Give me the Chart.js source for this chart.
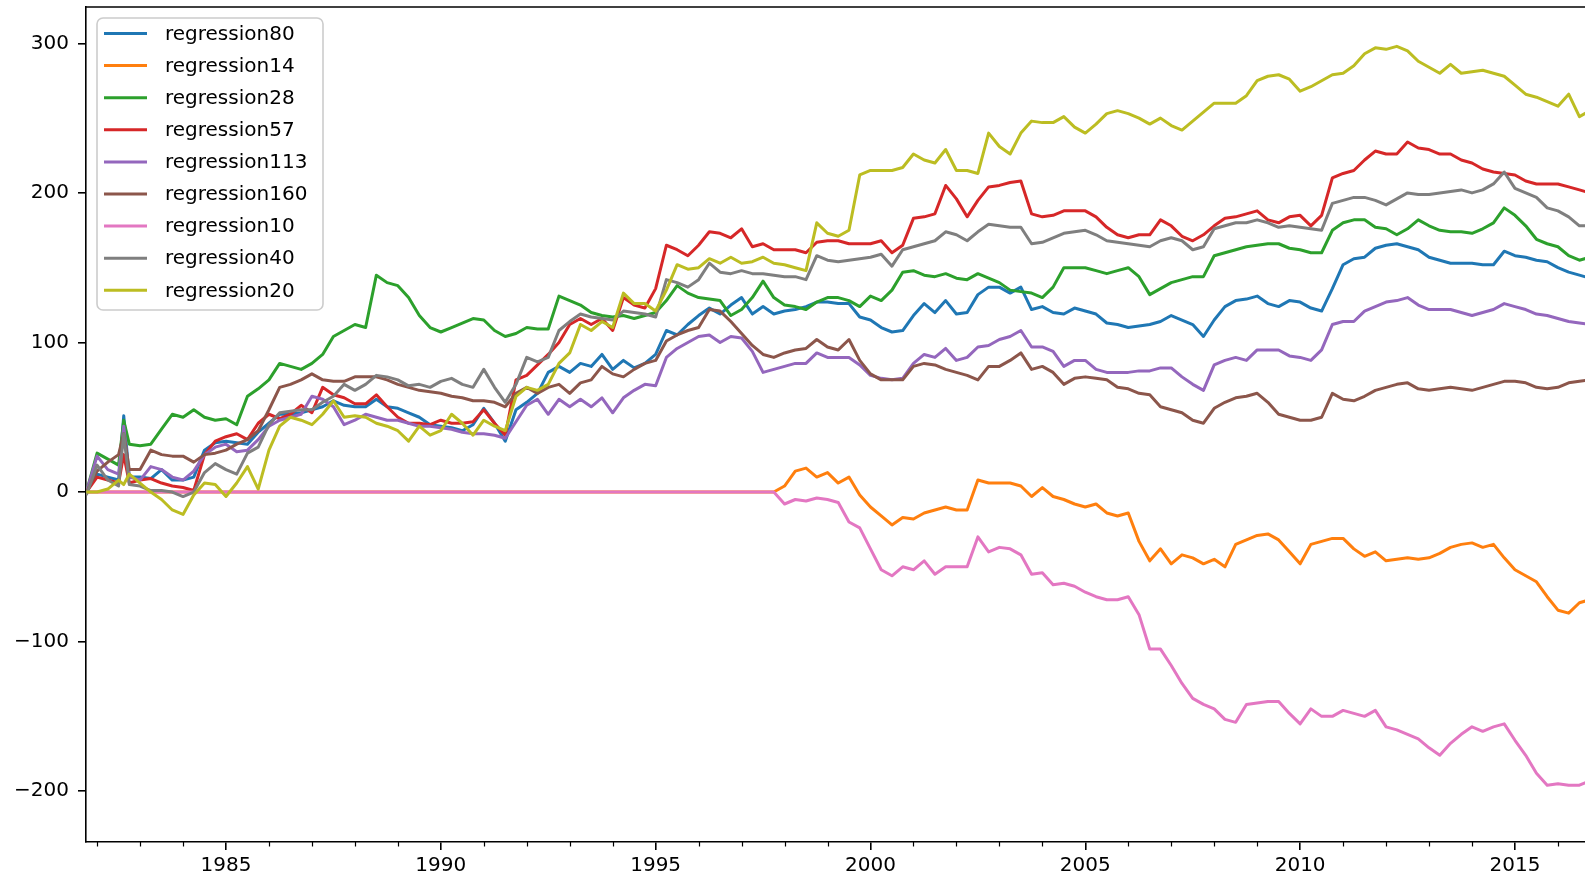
<!DOCTYPE html>
<html>
<head>
<meta charset="utf-8">
<script src="https://cdn.jsdelivr.net/npm/chart.js@4.4.1/dist/chart.umd.min.js"></script>
<style>
  html, body { margin: 0; padding: 0; background: #fff; overflow: hidden; }
  #wrap { width: 1585px; height: 877px; }
</style>
</head>
<body>
<div id="wrap"><canvas id="chart" width="1585" height="877"></canvas></div>
<script>
// time axis (decimal years, quarterly, plus the 1982 spike), shared by every series
const years = [
  1981.75, 1982, 1982.25, 1982.5, 1982.62, 1982.75,
  1983, 1983.25, 1983.5, 1983.75, 1984, 1984.25, 1984.5, 1984.75,
  1985, 1985.25, 1985.5, 1985.75, 1986, 1986.25, 1986.5, 1986.75,
  1987, 1987.25, 1987.5, 1987.75, 1988, 1988.25, 1988.5, 1988.75,
  1989, 1989.25, 1989.5, 1989.75, 1990, 1990.25, 1990.5, 1990.75,
  1991, 1991.25, 1991.5, 1991.75, 1992, 1992.25, 1992.5, 1992.75,
  1993, 1993.25, 1993.5, 1993.75, 1994, 1994.25, 1994.5, 1994.75,
  1995, 1995.25, 1995.5, 1995.75, 1996, 1996.25, 1996.5, 1996.75,
  1997, 1997.25, 1997.5, 1997.75, 1998, 1998.25, 1998.5, 1998.75,
  1999, 1999.25, 1999.5, 1999.75, 2000, 2000.25, 2000.5, 2000.75,
  2001, 2001.25, 2001.5, 2001.75, 2002, 2002.25, 2002.5, 2002.75,
  2003, 2003.25, 2003.5, 2003.75, 2004, 2004.25, 2004.5, 2004.75,
  2005, 2005.25, 2005.5, 2005.75, 2006, 2006.25, 2006.5, 2006.75,
  2007, 2007.25, 2007.5, 2007.75, 2008, 2008.25, 2008.5, 2008.75,
  2009, 2009.25, 2009.5, 2009.75, 2010, 2010.25, 2010.5, 2010.75,
  2011, 2011.25, 2011.5, 2011.75, 2012, 2012.25, 2012.5, 2012.75,
  2013, 2013.25, 2013.5, 2013.75, 2014, 2014.25, 2014.5, 2014.75,
  2015, 2015.25, 2015.5, 2015.75, 2016, 2016.25, 2016.5, 2016.75]

const regression80 = [
  0, 12, 10, 8, 51, 10, 10, 9, 15, 8, 8, 10, 28, 33, 34, 33, 32, 40, 46, 52, 52, 53, 55,
  57, 61, 58, 57, 57, 62, 57, 56, 53, 50, 45, 44, 43, 41, 45, 56, 46, 34, 55, 60, 66, 80,
  84, 80, 86, 84, 92, 82, 88, 83, 86, 92, 108, 105, 112, 118, 123, 119, 125, 130, 119, 124,
  119, 121, 122, 124, 127, 127, 126,
  126, 117, 115, 110, 107, 108, 118, 126, 120, 128, 119, 120, 132, 137, 137, 133, 137,
  122, 124, 120, 119, 123, 121, 119, 113, 112, 110, 111, 112, 114, 118, 115, 112,
  104, 115, 124, 128, 129, 131, 126, 124, 128, 127, 123, 121, 136, 152, 156, 157, 163, 165,
  166, 164, 162, 157, 155, 153, 153, 153, 152, 152, 161, 158, 157, 155, 154, 150, 147, 145, 143]

const regression14 = [
  0, 0, 0, 0, 0, 0, 0, 0, 0, 0, 0, 0, 0, 0, 0, 0, 0, 0, 0, 0, 0, 0, 0,
  0, 0, 0, 0, 0, 0, 0, 0, 0, 0, 0, 0, 0, 0, 0, 0, 0, 0, 0, 0, 0, 0,
  0, 0, 0, 0, 0, 0, 0, 0, 0, 0, 0, 0, 0, 0, 0, 0, 0, 0, 0, 0, 0,
  4, 14, 16, 10, 13, 6,
  10, -2, -10, -16, -22, -17, -18, -14, -12, -10, -12, -12, 8, 6, 6, 6, 4,
  -3, 3, -3, -5, -8, -10, -8, -14, -16, -14, -33, -46, -38, -48, -42, -44,
  -48, -45, -50, -35, -32, -29, -28, -32, -40, -48, -35, -33, -31, -31, -38, -43, -40, -46,
  -45, -44, -45, -44, -41, -37, -35, -34, -37, -35, -44, -52, -56, -60, -70, -79, -81, -74, -72]

const regression28 = [
  0, 26, 22, 18, 48, 32, 31, 32, 42, 52, 50, 55, 50, 48, 49, 45, 64, 69, 75, 86, 84, 82, 86,
  92, 104, 108, 112, 110, 145, 140, 138, 130, 118, 110, 107, 110, 113, 116, 115, 108, 104, 106, 110, 109, 109,
  131, 128, 125, 120, 118, 117, 118, 116, 118, 120, 128, 138, 133, 130, 129, 128, 118, 122, 130, 141,
  130, 125, 124, 122, 127, 130, 130,
  128, 124, 131, 128, 135, 147, 148, 145, 144, 146, 143, 142, 146, 143, 140, 135, 134,
  133, 130, 137, 150, 150, 150, 148, 146, 148, 150, 144, 132, 136, 140, 142, 144,
  144, 158, 160, 162, 164, 165, 166, 166, 163, 162, 160, 160, 175, 180, 182, 182, 177, 176,
  172, 176, 182, 178, 175, 174, 174, 173, 176, 180, 190, 185, 178, 169, 166, 164, 158, 155, 157]

const regression57 = [
  0, 10, 8, 6, 25, 6, 8, 9, 6, 4, 3, 1, 25, 34, 37, 39, 35, 46, 52, 49, 52, 58, 53,
  70, 65, 63, 59, 59, 65, 57, 50, 46, 46, 45, 48, 46, 46, 47, 55, 46, 38, 75, 78, 85, 92,
  100, 112, 116, 112, 116, 108, 130, 125, 123, 136, 165, 162, 158, 165, 174, 173, 170, 176, 164, 166,
  162, 162, 162, 160, 167, 168, 168,
  166, 166, 166, 168, 160, 165, 183, 184, 186, 205, 196, 184, 195, 204, 205, 207, 208,
  186, 184, 185, 188, 188, 188, 184, 177, 172, 170, 172, 172, 182, 178, 171, 168,
  172, 178, 183, 184, 186, 188, 182, 180, 184, 185, 178, 185, 210, 213, 215, 222, 228, 226,
  226, 234, 230, 229, 226, 226, 222, 220, 216, 214, 213, 212, 208, 206, 206, 206, 204, 202, 200]

const regression113 = [
  0, 24, 15, 12, 44, 10, 8, 17, 15, 10, 8, 14, 25, 30, 32, 27, 28, 35, 44, 48, 50, 52, 64,
  62, 57, 45, 48, 52, 50, 48, 48, 46, 44, 44, 43, 42, 40, 39, 39, 38, 36, 47, 58, 62, 52,
  62, 57, 62, 57, 63, 53, 63, 68, 72, 71, 90, 96, 100, 104, 105, 100, 104, 103, 94, 80,
  82, 84, 86, 86, 93, 90, 90,
  90, 85, 78, 76, 75, 76, 86, 92, 90, 96, 88, 90, 97, 98, 102, 104, 108,
  97, 97, 94, 84, 88, 88, 82, 80, 80, 80, 81, 81, 83, 83, 77, 72,
  68, 85, 88, 90, 88, 95, 95, 95, 91, 90, 88, 95, 112, 114, 114, 121, 124, 127,
  128, 130, 125, 122, 122, 122, 120, 118, 120, 122, 126, 124, 122, 119, 118, 116, 114, 113, 112]

const regression160 = [
  0, 14, 20, 25, 39, 15, 15, 28, 25, 24, 24, 20, 25, 26, 28, 32, 35, 41, 55, 70, 72, 75, 79,
  75, 74, 74, 77, 77, 77, 75, 72, 70, 68, 67, 66, 64, 63, 61, 61, 60, 57, 66, 70, 66, 70,
  72, 66, 73, 75, 84, 79, 77, 82, 86, 88, 101, 105, 108, 110, 122, 121, 114, 106, 98, 92,
  90, 93, 95, 96, 102, 97, 95,
  102, 88, 79, 75, 75, 75, 84, 86, 85, 82, 80, 78, 75, 84, 84, 88, 93,
  82, 84, 80, 72, 76, 77, 76, 75, 70, 69, 66, 65, 57, 55, 53, 48,
  46, 56, 60, 63, 64, 66, 60, 52, 50, 48, 48, 50, 66, 62, 61, 64, 68, 70,
  72, 73, 69, 68, 69, 70, 69, 68, 70, 72, 74, 74, 73, 70, 69, 70, 73, 74, 75]

const regression10 = [
  0, 0, 0, 0, 0, 0, 0, 0, 0, 0, 0, 0, 0, 0, 0, 0, 0, 0, 0, 0, 0, 0, 0,
  0, 0, 0, 0, 0, 0, 0, 0, 0, 0, 0, 0, 0, 0, 0, 0, 0, 0, 0, 0, 0, 0,
  0, 0, 0, 0, 0, 0, 0, 0, 0, 0, 0, 0, 0, 0, 0, 0, 0, 0, 0, 0, 0,
  -8, -5, -6, -4, -5, -7,
  -20, -24, -38, -52, -56, -50, -52, -46, -55, -50, -50, -50, -30, -40, -37, -38, -42,
  -55, -54, -62, -61, -63, -67, -70, -72, -72, -70, -82, -105, -105, -116, -128, -138,
  -142, -145, -152, -154, -142, -141, -140, -140, -148, -155, -145, -150, -150, -146, -148, -150, -146, -157,
  -159, -162, -165, -171, -176, -168, -162, -157, -160, -157, -155, -166, -176, -188, -196, -195, -196, -196, -193]

const regression40 = [
  -2, 18, 8, 4, 39, 5, 4, 1, 1, 0, -3, 0, 13, 19, 15, 12, 26, 30, 45, 53, 54, 55, 55,
  60, 64, 72, 68, 72, 78, 77, 75, 71, 72, 70, 74, 76, 72, 70, 82, 70, 60, 72, 90, 87, 90,
  108, 114, 119, 117, 116, 115, 121, 120, 119, 117, 142, 140, 137, 142, 153, 147, 146, 148, 146, 146,
  145, 144, 144, 142, 158, 155, 154,
  155, 156, 157, 159, 151, 162, 164, 166, 168, 174, 172, 168, 174, 179, 178, 177, 177,
  166, 167, 170, 173, 174, 175, 172, 168, 167, 166, 165, 164, 168, 170, 168, 162,
  164, 176, 178, 180, 180, 182, 180, 177, 178, 177, 176, 175, 193, 195, 197, 197, 195, 192,
  196, 200, 199, 199, 200, 201, 202, 200, 202, 206, 214, 203, 200, 197, 190, 188, 184, 178, 178]

const regression20 = [
  0, 0, 2, 8, 5, 12, 6, 0, -5, -12, -15, -2, 6, 5, -3, 6, 17, 2, 28, 44, 50, 48, 45,
  52, 61, 50, 51, 50, 46, 44, 41, 34, 44, 38, 41, 52, 46, 38, 48, 44, 41, 64, 70, 68, 72,
  86, 93, 112, 108, 114, 110, 133, 126, 126, 121, 135, 152, 149, 150, 156, 153, 157, 153, 154, 157,
  153, 152, 150, 148, 180, 173, 171,
  175, 212, 215, 215, 215, 217, 226, 222, 220, 229, 215, 215, 213, 240, 231, 226, 240,
  248, 247, 247, 251, 244, 240, 246, 253, 255, 253, 250, 246, 250, 245, 242, 248,
  254, 260, 260, 260, 265, 275, 278, 279, 276, 268, 271, 275, 279, 280, 285, 293, 297, 296,
  298, 295, 288, 284, 280, 286, 280, 281, 282, 280, 278, 272, 266, 264, 261, 258, 266, 251, 255]

const seriesNames = ['regression80', 'regression14', 'regression28', 'regression57', 'regression113',
  'regression160', 'regression10', 'regression40', 'regression20']
const seriesValues = [regression80, regression14, regression28, regression57, regression113,
  regression160, regression10, regression40, regression20]
const colors = ['#1f77b4', '#ff7f0e', '#2ca02c', '#d62728', '#9467bd', '#8c564b', '#e377c2', '#7f7f7f', '#bcbd22']

const xTicks = [1985, 1990, 1995, 2000, 2005, 2010, 2015]
const yTicks = [-200, -100, 0, 100, 200, 300]

const FONT = '"DejaVu Sans", "Liberation Sans", sans-serif'
Chart.defaults.font.family = FONT
Chart.defaults.font.size = 20
Chart.defaults.color = '#000'

// top spine, yearly minor ticks and a matplotlib style legend box
const extras = {
  id: 'extras',
  afterDraw (chart) {
    const { ctx, chartArea: area, scales: { x } } = chart
    ctx.save()
    ctx.strokeStyle = '#000'
    ctx.lineWidth = 1.6
    ctx.beginPath()
    ctx.moveTo(area.left, area.top)
    ctx.lineTo(area.right, area.top)
    ctx.stroke()

    ctx.lineWidth = 1.2
    for (let yr = 1982; yr <= 2016; yr++) {
      if (yr % 5 === 0) continue
      const px = Math.round(x.getPixelForValue(yr)) + 0.5
      ctx.beginPath()
      ctx.moveTo(px, area.bottom)
      ctx.lineTo(px, area.bottom + 4.5)
      ctx.stroke()
    }

    // legend
    const bx = 97, by = 18, bw = 226, bh = 292, r = 6
    ctx.beginPath()
    ctx.moveTo(bx + r, by)
    ctx.arcTo(bx + bw, by, bx + bw, by + bh, r)
    ctx.arcTo(bx + bw, by + bh, bx, by + bh, r)
    ctx.arcTo(bx, by + bh, bx, by, r)
    ctx.arcTo(bx, by, bx + bw, by, r)
    ctx.closePath()
    ctx.fillStyle = 'rgba(255,255,255,0.8)'
    ctx.fill()
    ctx.strokeStyle = '#cccccc'
    ctx.lineWidth = 1.6
    ctx.stroke()

    ctx.font = '20px ' + FONT
    ctx.textBaseline = 'middle'
    ctx.textAlign = 'left'
    seriesNames.forEach((name, i) => {
      const ly = 33.5 + 32.1 * i
      ctx.strokeStyle = colors[i]
      ctx.lineWidth = 3
      ctx.beginPath()
      ctx.moveTo(104, ly)
      ctx.lineTo(147, ly)
      ctx.stroke()
      ctx.fillStyle = '#000'
      ctx.fillText(name, 165, ly + 1)
    })
    ctx.restore()
  }
}

const datasets = seriesNames.map((name, i) => ({
  label: name,
  data: seriesValues[i].map((v, j) => ({ x: years[j], y: v })),
  borderColor: colors[i],
  backgroundColor: colors[i],
  borderWidth: 3,
  pointRadius: 0,
  tension: 0,
  fill: false,
  borderJoinStyle: 'round',
  order: seriesNames.length - i // later series drawn on top, like matplotlib
}))

new Chart(document.getElementById('chart'), {
  type: 'line',
  data: { datasets: datasets },
  options: {
    responsive: false,
    animation: false,
    layout: { padding: { top: 7, left: 0, right: 0, bottom: 0 } },
    plugins: {
      legend: { display: false },
      tooltip: { enabled: false }
    },
    scales: {
      x: {
        type: 'linear',
        min: 1981.742,
        max: 2016.63,
        afterBuildTicks: scale => { scale.ticks = xTicks.map(v => ({ value: v })) },
        afterFit: scale => {
          scale.height = 35
          scale.paddingLeft = 0
          scale.paddingRight = 0
        },
        ticks: {
          autoSkip: false,
          maxRotation: 0,
          padding: 4,
          color: '#000',
          callback: v => String(v)
        },
        grid: { drawOnChartArea: false, tickLength: 8, color: '#000', lineWidth: 1.6 },
        border: { color: '#000', width: 1.6 }
      },
      y: {
        min: -234,
        max: 324.3,
        afterBuildTicks: scale => { scale.ticks = yTicks.map(v => ({ value: v })) },
        afterFit: scale => {
          scale.width = 86
          scale.paddingTop = 0
          scale.paddingBottom = 0
        },
        ticks: {
          padding: 9,
          color: '#000',
          callback: v => (v < 0 ? '\u2212' + Math.abs(v) : String(v))
        },
        grid: { drawOnChartArea: false, tickLength: 8, color: '#000', lineWidth: 1.6 },
        border: { color: '#000', width: 1.6 }
      }
    }
  },
  plugins: [extras]
})
</script>
</body>
</html>
